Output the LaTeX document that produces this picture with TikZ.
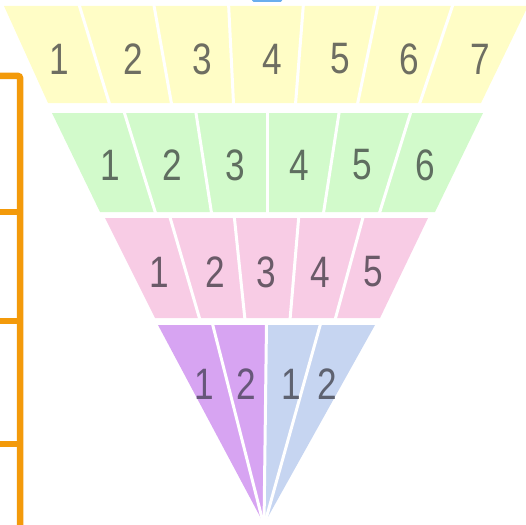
\documentclass[tikz,border=0pt]{standalone}
\usepackage{fontspec}
\newfontfamily\numfont[FakeStretch=0.8]{Liberation Sans}
\definecolor{yel}{HTML}{FFFDC6}
\definecolor{grn}{HTML}{D2FACB}
\definecolor{pnk}{HTML}{F8CCE5}
\definecolor{prp}{HTML}{D7A4F2}
\definecolor{blu}{HTML}{C6D5F1}
\definecolor{orng}{HTML}{F39A0A}
\definecolor{topblue}{HTML}{6AAEEE}
\definecolor{tyel}{HTML}{6E6E62}
\definecolor{tgrn}{HTML}{5F6E60}
\definecolor{tpnk}{HTML}{6A5A68}
\definecolor{tprp}{HTML}{67577A}
\definecolor{tblu}{HTML}{5E6270}
\tikzset{
  num/.style={font=\numfont\fontsize{44}{44}\selectfont, inner sep=0pt, anchor=center},
  divider/.style={draw=white, line width=3pt},
  bracket/.style={draw=orng, line width=6.5pt},
}
\begin{document}
\begin{tikzpicture}[x=1pt,y=-1pt]
\useasboundingbox (0,0) rectangle (526,524);
% blue shape cut at the top
\fill[topblue, rounded corners=1.5pt] (252,-3) rectangle (282,2);
% bands
\fill[yel] (4,6) -- (528,6) -- (481,103) -- (48,103) -- cycle;
\fill[grn] (52,113) -- (483,113) -- (435,212) -- (100,212) -- cycle;
\fill[pnk] (105,218) -- (428,218) -- (380,318) -- (155,318) -- cycle;
\fill[prp] (158,325) -- (266.5,325) -- (264,524) -- cycle;
\fill[blu] (266.5,325) -- (375,325) -- (264,524) -- cycle;
% dividers
\foreach \yt/\yb/\tl/\tr/\bl/\br/\n in {6/103/4/528/48/481/7, 113/212/52/483/100/435/6, 218/318/105/428/155/380/5, 325/524/158/375/264/264/4}{
  \pgfmathtruncatemacro\m{\n-1}
  \foreach \i in {1,...,\m}{
    \pgfmathsetmacro\xa{\tl+\i*(\tr-\tl)/\n}
    \pgfmathsetmacro\xb{\bl+\i*(\br-\bl)/\n}
    \draw[divider] (\xa,\yt-2) -- (\xb,\yb+2);
  }
}
% numbers
\foreach \x [count=\k] in {59,133,202,272,340,409,480}
  \node[num, text=tyel] (a\k) at (\x,59) {\k};
\foreach \x [count=\k] in {110,172,235,299,362,425}
  \node[num, text=tgrn] (b\k) at (\x,165) {\k};
\foreach \x [count=\k] in {159,215,266,320,373}
  \node[num, text=tpnk] (c\k) at (\x,272) {\k};
\node[num, text=tprp] (d1) at (204,384) {1};
\node[num, text=tprp] (d2) at (246,384) {2};
\node[num, text=tblu] (e1) at (291,384) {1};
\node[num, text=tblu] (e2) at (327,384) {2};
% orange bracket
\coordinate (k0) at (0,76);
\coordinate (kc) at (20,76);
\coordinate (kb) at (20,526);
\draw[bracket, rounded corners=2pt] (k0) -- (kc) -- (kb);
\foreach \y in {212,321,444}
  \draw[bracket] (0,\y) -- (20,\y);
\end{tikzpicture}
\end{document}
